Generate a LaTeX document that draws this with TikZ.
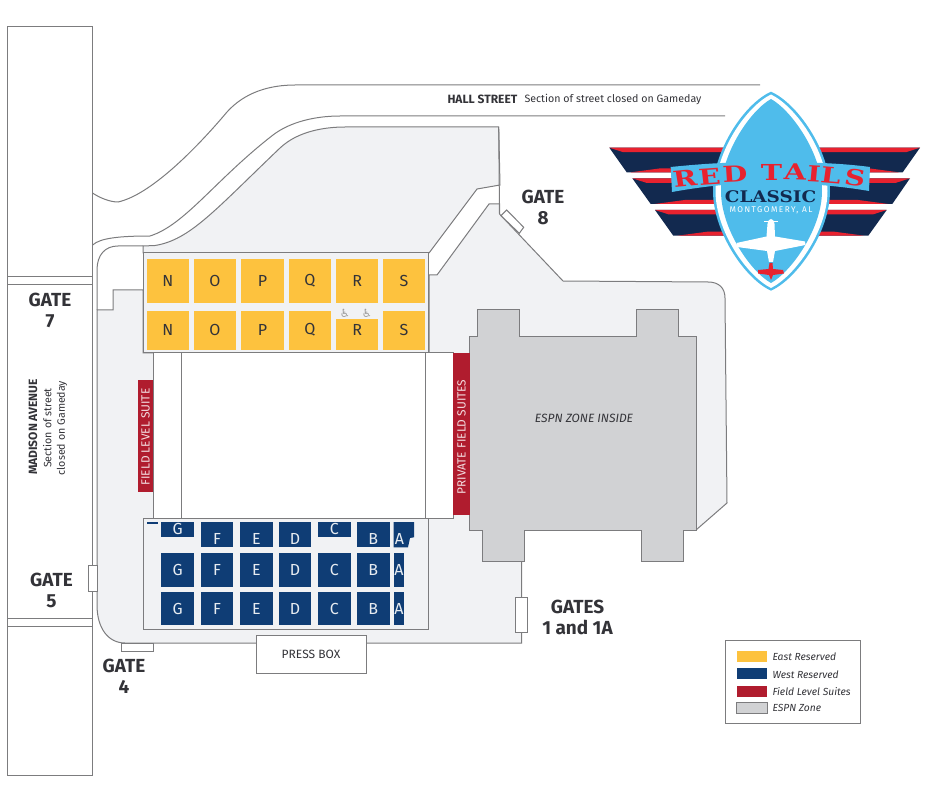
\documentclass[tikz,border=0pt]{standalone}
\usepackage{fontspec}
\usepackage{xcolor}
\setmainfont{Fira Sans}
\newfontfamily\symfont{DejaVu Sans}
\newfontfamily\slabfont{DejaVu Serif Bold}
\definecolor{lotgray}{HTML}{F1F2F4}
\definecolor{edgegray}{HTML}{7C7C7E}
\definecolor{zonegray}{HTML}{D1D2D4}
\definecolor{eastgold}{HTML}{FDC23E}
\definecolor{westnavy}{HTML}{0F3D75}
\definecolor{suitered}{HTML}{B01C2E}
\definecolor{inkgray}{HTML}{333338}
\definecolor{logoblue}{HTML}{4FBCEB}
\definecolor{lognavy}{HTML}{12294F}
\definecolor{logored}{HTML}{E8222F}
\usetikzlibrary{positioning}

\begin{document}
\begin{tikzpicture}[
  x=0.75pt, y=-0.75pt,
  line width=0.75pt,
  edge/.style={draw=edgegray},
  lot/.style={fill=lotgray, draw=edgegray},
  gatebox/.style={fill=white, draw=edgegray},
  gatelab/.style={font=\fontsize{14.2}{15.75}\selectfont\bfseries, text=inkgray, align=center, inner sep=0pt},
  eastlab/.style={font=\fontsize{12}{12}\selectfont, text=inkgray, inner sep=0pt},
  westlab/.style={font=\fontsize{12}{12}\selectfont, text=white!90!westnavy, inner sep=0pt},
  suitelab/.style={font=\fontsize{8.9}{10}\selectfont, text=white!85!suitered, rotate=90, inner sep=0pt},
  streetbold/.style={font=\fontsize{9}{10}\selectfont\bfseries, text=inkgray, inner sep=0pt},
  streetnote/.style={font=\fontsize{8}{10.1}\selectfont, text=inkgray, align=center, inner sep=0pt},
  keylab/.style={font=\fontsize{7.7}{9}\selectfont\itshape, text=inkgray, anchor=west, inner sep=0pt},
  taillab/.style={font=\fontsize{16.5}{16.5}\slabfont, text=logored, inner sep=0pt, xscale=1.3, transform shape}
]
\useasboundingbox (0,0) rectangle (940,788);

% ---- madison avenue ----
\draw[edge] (7.5,27) rectangle (92.5,775);
\draw[edge] (7.5,277) -- (92.5,277) (7.5,285) -- (92.5,285);
\draw[edge] (7.5,618) -- (92.5,618) (7.5,626) -- (92.5,626);
\node[streetbold, rotate=90] (madison) at (33,427) {MADISON AVENUE};
\node[streetnote, rotate=90] (madisonnote) at (55,428) {Section of street\\closed on Gameday};

% ---- hall street ----
\draw[edge] (92.5,193) .. controls (100,198) and (110,202) .. (118,202)
  .. controls (150,195) and (195,150) .. (227,112)
  .. controls (245,92) and (270,85) .. (295,85) -- (760,85);
\draw[edge] (92.7,245) .. controls (100,238) and (120,236) .. (150,236)
  .. controls (185,225) and (215,180) .. (273,135)
  .. controls (290,122) and (315,116) .. (340,116) -- (725,116);
\node[streetbold, anchor=west] (hall) at (447,99) {HALL STREET};
\node[streetnote, anchor=west] (hallnote) at (524,99.5) {Section of street closed on Gameday};

% ---- lot ----
\draw[lot] (143,246) -- (155,245.5) .. controls (190,240) and (215,210) .. (280,148)
  .. controls (298,131) and (325,127) .. (345,127) -- (498.7,127) -- (500,185)
  -- (477,189) -- (429,253) -- (143,253) -- cycle;
\draw[lot] (143,290) -- (113,290) -- (113,310) -- (97,310) -- (97,605)
  .. controls (97,628) and (108,643) .. (125,643) -- (521.5,643) -- (521.5,530)
  -- (696,530) -- (727,503) -- (725,298) .. controls (725,288) and (719,282) .. (708,282)
  -- (563,281) -- (499.5,214) -- (499.5,204) -- (489,204) -- (437,275) -- (429,275)
  -- (429,353) -- (143,353) -- cycle;
\draw[edge] (97,310) -- (97,270) .. controls (97,255) and (105,246) .. (118,246) -- (143,246);
\draw[edge] (498.7,127) -- (499.5,214);

% ---- espn zone ----
\draw[edge, fill=zonegray] (469.5,337) -- (477,337) -- (477,310) -- (519.5,310) -- (519.5,337)
  -- (636,337) -- (636,310) -- (678,310) -- (678,337) -- (696,337) -- (696,530)
  -- (683,530) -- (683,561) -- (641,561) -- (641,530) -- (524.5,530) -- (524.5,561)
  -- (482,561) -- (482,530) -- (469.5,530) -- cycle;
\node[font=\fontsize{9}{10}\selectfont\itshape, text=inkgray, inner sep=0pt] (espn) at (584,418) {ESPN ZONE INSIDE};

% ---- field ----
\draw[edge, fill=white] (153,353) rectangle (453,518.5);
\draw[edge] (181,353) -- (181,518.5) (425,353) -- (425,518.5);
\fill[suitered] (137.5,380) rectangle (153,492);
\node[suitelab] (fieldsuite) at (145.5,437) {FIELD LEVEL SUITE};
\fill[suitered] (453,353.5) rectangle (470,515);
\node[suitelab] (privatesuite) at (461.5,437) {PRIVATE FIELD SUITES};

% ---- east stand ----
\draw[lot] (143,253) rectangle (428.5,353);
\foreach \lab/\xa/\xb in {N/146.7/189, O/194/236, P/241.3/283.7, Q/288.7/331, R/336/378.3, S/383/425} {
  \fill[eastgold] (\xa,259) rectangle node[eastlab] (east\lab1) {\lab} (\xb,303);
}
\foreach \lab/\xa/\xb/\ya in {N/146.7/189/310.7, O/194/236/310.7, P/241.3/283.7/310.7, Q/288.7/331/310.7, R/336/378.3/319, S/383/425/310.7} {
  \fill[eastgold] (\xa,\ya) rectangle (\xb,349.7);
  \node[eastlab] (east\lab2) at ({(\xa+\xb)/2},330) {\lab};
}
\node[font=\fontsize{8.5}{9}\symfont, text=black!38, inner sep=0pt] (chairl) at (345,313) {♿};
\node[font=\fontsize{8.5}{9}\symfont, text=black!38, inner sep=0pt] (chairr) at (367,313) {♿};

% ---- west stand ----
\draw[lot] (143,518.5) rectangle (428.5,629.5);
\fill[westnavy] (147,522) rectangle (158.3,524.3);
\foreach \lab/\xa/\xb in {G/161.3/194, F/200.7/233.3, E/240/272.7, D/278.7/311.3, C/318/350.7, B/357/389.7, A/393.7/404} {
  \fill[westnavy] (\xa,553) rectangle node[westlab] (west\lab2) {\lab} (\xb,587);
  \fill[westnavy] (\xa,591.7) rectangle node[westlab] (west\lab3) {\lab} (\xb,625.3);
}
\foreach \lab/\xa/\xb/\yb/\yt in {G/161.3/194/536.7/529, F/200.7/233.3/547.3/538.5, E/240/272.7/547.3/538.5, D/278.7/311.3/547.3/538.5, C/318/350.7/536.7/529, B/357/389.7/547.3/538.5} {
  \fill[westnavy] (\xa,522) rectangle (\xb,\yb);
  \node[westlab] (west\lab1) at ({(\xa+\xb)/2},\yt) {\lab};
}
\fill[westnavy] (393.7,522) -- (414,522) -- (414,537.3) -- (410,538) -- (408,547.3) -- (393.7,547.3) -- cycle;
\node[westlab] (westA1) at (399.5,538.5) {A};

% ---- gates ----
\draw[gatebox] (506.7,210) -- (523.7,227.3) -- (519.3,233.3) -- (501,215.7) -- cycle;
\draw[gatebox] (88,565) rectangle (97,591);
\draw[gatebox] (121.5,643) rectangle (153,651);
\draw[gatebox] (515.7,597) rectangle (527.7,632);
\node[gatelab] (gate7) at (50,310) {GATE\\7};
\node[gatelab] (gate8) at (543,207) {GATE\\8};
\node[gatelab] (gate5) at (51.5,590) {GATE\\5};
\node[gatelab] (gate4) at (124,676.5) {GATE\\4};
\node[gatelab] (gate1) at (577.5,617) {GATES\\1 and 1A};

% ---- press box ----
\draw[edge, fill=white] (256,635) rectangle (366.7,673.7);
\node[font=\fontsize{9}{10}\selectfont, text=inkgray, inner sep=0pt] (press) at (311,654.5) {PRESS BOX};

% ---- legend ----
\draw[edge] (725,640) rectangle (860,723.3);
\fill[eastgold] (736.7,651.3) rectangle (767,662);
\fill[westnavy] (736.7,668.3) rectangle (767,679);
\fill[suitered] (736.7,686.3) rectangle (767,697);
\draw[edge, fill=zonegray] (736.7,702.7) rectangle (767,713.7);
\node[keylab] (keyeast) at (772,656.7) {East Reserved};
\node[keylab] (keywest) at (772,674.5) {West Reserved};
\node[keylab] (keyfield) at (772,691.7) {Field Level Suites};
\node[keylab] (keyespn) at (772,708) {ESPN Zone};

% ---- logo wings ----
\foreach \xa/\xb/\ya/\yb/\sg in {609.3/626.7/147.7/172.3/1, 632.3/650.7/178.3/204/1, 655/673.3/210/235.7/1,
    920/902.7/147.7/172.3/-1, 910/892.3/178.3/204/-1, 886.7/868.3/210/235.7/-1} {
  \fill[lognavy] (\xa,\ya) -- (771,\ya) -- (771,\yb) -- (\xb,\yb) -- cycle;
  \fill[logored] (\xa,\ya) -- (771,\ya) -- (771,\ya+4.5) -- ({\xa+\sg*14},\ya+4.5) -- cycle;
  \fill[logored] ({\xb+\sg*4},\yb) -- (771,\yb) -- (771,\yb-4) -- ({\xb+\sg*34},\yb-4) -- cycle;
}

% ---- logo badge ----
\fill[logoblue] (771,91.7) .. controls (745,103) and (713,150) .. (713,191)
  .. controls (713,232) and (745,279) .. (771,290.7)
  .. controls (797,279) and (830,232) .. (830,191)
  .. controls (830,150) and (797,103) .. (771,91.7) -- cycle;
\fill[white] (771,94.5) .. controls (747,106) and (715.5,151) .. (715.5,191)
  .. controls (715.5,231) and (747,276) .. (771,288)
  .. controls (795,276) and (827.5,231) .. (827.5,191)
  .. controls (827.5,151) and (795,106) .. (771,94.5) -- cycle;
\fill[logoblue] (771,99) .. controls (751,110) and (721,153) .. (721,191)
  .. controls (721,229) and (751,272) .. (771,283)
  .. controls (791,272) and (822,229) .. (822,191)
  .. controls (822,153) and (791,110) .. (771,99) -- cycle;

% ---- logo plane ----
\fill[white] (767.5,224) .. controls (768,220) and (770,219) .. (771,219)
  .. controls (772,219) and (774,220) .. (774.5,224) -- (775,236.5) -- (805,241.5) -- (805.5,245)
  -- (775,251) -- (773,262) -- (769,262) -- (767,251) -- (737,247) -- (736.5,243) -- (766.5,236.5) -- cycle;
\fill[white] (764,221) rectangle (778,222.5);
\fill[logored] (769.5,263) -- (772.5,263) -- (773,269) -- (783,270) -- (784,273.5) -- (773,275)
  -- (771,280) -- (769,275) -- (758,273.5) -- (758,270) -- (768.5,269) -- cycle;

% ---- logo lettering ----
\fill[logoblue] (670.7,167) .. controls (710,163) and (735,162) .. (770,162)
  .. controls (805,162) and (840,163) .. (870,167) -- (869,191)
  .. controls (840,186) and (805,183) .. (770,183)
  .. controls (735,183) and (705,186) .. (672,192) -- cycle;
\foreach \lab/\xc/\yc/\ang/\idx in {R/685/178/7/1, E/709.5/176.3/5/2, D/735/173.5/3/3, T/771.5/172/0/4,
    A/795/172.2/-2/5, I/814/173.5/-4/6, L/831/175.5/-6/7, S/855/178/-8/8} {
  \node[taillab, rotate=\ang] (tail\idx) at (\xc,\yc) {\lab};
}
\node[font=\fontsize{12}{12}\slabfont, text=lognavy, inner sep=0pt, xscale=1.15, transform shape] (classic) at (770.5,196.5) {CLASSIC};
\node[font=\fontsize{6.2}{7}\selectfont\addfontfeature{LetterSpace=18}, text=white, inner sep=0pt] (montgomery) at (771,210.7) {MONTGOMERY, AL};
\end{tikzpicture}
\end{document}
